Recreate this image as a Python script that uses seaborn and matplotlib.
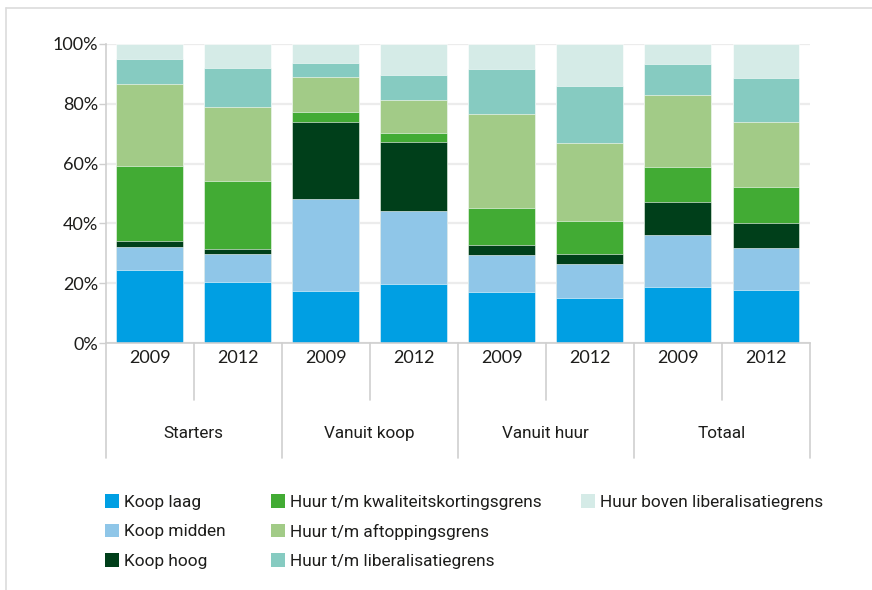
import numpy as np
import pandas as pd
import matplotlib
matplotlib.use("Agg")
import matplotlib.pyplot as plt
from matplotlib import font_manager
from matplotlib.patches import Patch
from matplotlib.lines import Line2D
from matplotlib.transforms import blended_transform_factory
import seaborn as sns

# --- data -----------------------------------------------------------------
groups = ["Starters", "Vanuit koop", "Vanuit huur", "Totaal"]
years = ["2009", "2012"]
categories = [
    "Koop laag",
    "Koop midden",
    "Koop hoog",
    "Huur t/m kwaliteitskortingsgrens",
    "Huur t/m aftoppingsgrens",
    "Huur t/m liberalisatiegrens",
    "Huur boven liberalisatiegrens",
]
# shares (%) per bar: Starters 09/12, Vanuit koop 09/12, Vanuit huur 09/12, Totaal 09/12
koop_laag = [24.4, 20.3, 17.3, 19.6, 16.9, 15.2, 18.7, 17.7]
koop_midden = [7.6, 9.4, 30.7, 24.5, 12.4, 11.2, 17.5, 14.2]
koop_hoog = [2.1, 1.7, 25.8, 23.2, 3.6, 3.3, 10.8, 8.2]
huur_kwal = [25.2, 22.7, 3.6, 3.0, 12.3, 11.2, 11.9, 12.1]
huur_aftop = [27.3, 24.8, 11.4, 10.9, 31.3, 26.1, 24.0, 21.6]
huur_lib = [8.5, 13.1, 4.8, 8.4, 15.3, 19.1, 10.3, 14.8]
huur_boven = [4.9, 8.0, 6.4, 10.4, 8.2, 13.9, 6.8, 11.4]

colors = ["#009fe3", "#8fc6e8", "#003f1a", "#42ab34", "#a2cb87", "#86cbc1", "#d5ebe7"]

# --- fonts ----------------------------------------------------------------
sns.set_theme(style="white")
available = {f.name for f in font_manager.fontManager.ttflist}
num_font = "Lato" if "Lato" in available else "DejaVu Sans"
txt_font = "Liberation Sans Narrow" if "Liberation Sans Narrow" in available else "Roboto"
plt.rcParams["font.family"] = [num_font, "DejaVu Sans"]
text_color = "#1d1d1b"
line_color = "#cfcfcf"

# --- table ----------------------------------------------------------------
bar_ids = [f"{g} {y}" for g in groups for y in years]
series = [koop_laag, koop_midden, koop_hoog, huur_kwal, huur_aftop, huur_lib, huur_boven]
df = pd.DataFrame({c: v for c, v in zip(categories, series)}, index=bar_ids)
cum = df.cumsum(axis=1)
cum = cum.div(cum.iloc[:, -1], axis=0) * 100  # normalise each bar to 100%

fig = plt.figure(figsize=(8.72, 5.90), dpi=100)
ax = fig.add_axes([105.5 / 872, 1 - 343 / 590, (810 - 105.5) / 872, 299 / 590])

# stacked bars: draw cumulative totals from the top segment down
for cat, col in reversed(list(zip(categories, colors))):
    sns.barplot(x=bar_ids, y=cum[cat].values, order=bar_ids, color=col,
                width=0.76, ax=ax, edgecolor="white", linewidth=0.4,
                saturation=1, zorder=2)

ax.set_xlim(-0.5, len(bar_ids) - 0.5)
ax.set_ylim(0, 100)
ax.set_yticks(np.arange(0, 101, 20))
ax.set_yticklabels([f"{v}%" for v in range(0, 101, 20)], fontsize=13,
                   color=text_color, family=num_font)
ax.yaxis.grid(True, color="#ececec", linewidth=1.6, zorder=0)
ax.set_axisbelow(True)
ax.tick_params(axis="y", direction="out", length=5, width=1, color=line_color,
               pad=0.5, left=True)
ax.set_xticks(range(len(bar_ids)))
ax.set_xticklabels(years * len(groups), fontsize=13, color=text_color, family=num_font)
ax.tick_params(axis="x", length=0, pad=5)
ax.set_xlabel("")
ax.set_ylabel("")

for side in ["top", "right"]:
    ax.spines[side].set_visible(False)
for side in ["left", "bottom"]:
    ax.spines[side].set_color(line_color)
    ax.spines[side].set_linewidth(1.2)

# category axis: separators between years and between groups
trans = blended_transform_factory(ax.transData, ax.transAxes)
for i in range(len(bar_ids) + 1):
    xpos = i - 0.5
    depth = -0.385 if i % 2 == 0 else -0.19
    ax.plot([xpos, xpos], [0, depth], transform=trans, color=line_color,
            linewidth=1.2, clip_on=False, zorder=1)
for gi, g in enumerate(groups):
    ax.text(gi * 2 + 0.5, -0.304, g, transform=trans, ha="center", va="center",
            fontsize=12.3, color=text_color, family=txt_font)

# legend in three columns
handles = [Patch(facecolor=c, edgecolor="none") for c in colors]
col_x = [105 / 872, 271 / 872, 581 / 872]
col_items = [[0, 1, 2], [3, 4, 5], [6]]
for x0, items in zip(col_x, col_items):
    fig.legend([handles[i] for i in items], [categories[i] for i in items],
               loc="upper left", bbox_to_anchor=(x0, 1 - 494 / 590),
               frameon=False, borderpad=0, borderaxespad=0,
               handlelength=0.83, handleheight=0.83, handletextpad=0.25,
               labelspacing=0.8, prop={"family": txt_font, "size": 12.4},
               labelcolor=text_color)

# outer frame (top and left edges)
fig.add_artist(Line2D([6 / 872, 1], [1 - 8 / 590, 1 - 8 / 590], color="#dcdcdc",
                      linewidth=1.2, transform=fig.transFigure))
fig.add_artist(Line2D([6 / 872, 6 / 872], [0, 1 - 8 / 590], color="#dcdcdc",
                      linewidth=1.2, transform=fig.transFigure))

fig.savefig("out.png", dpi=100, facecolor="white")
